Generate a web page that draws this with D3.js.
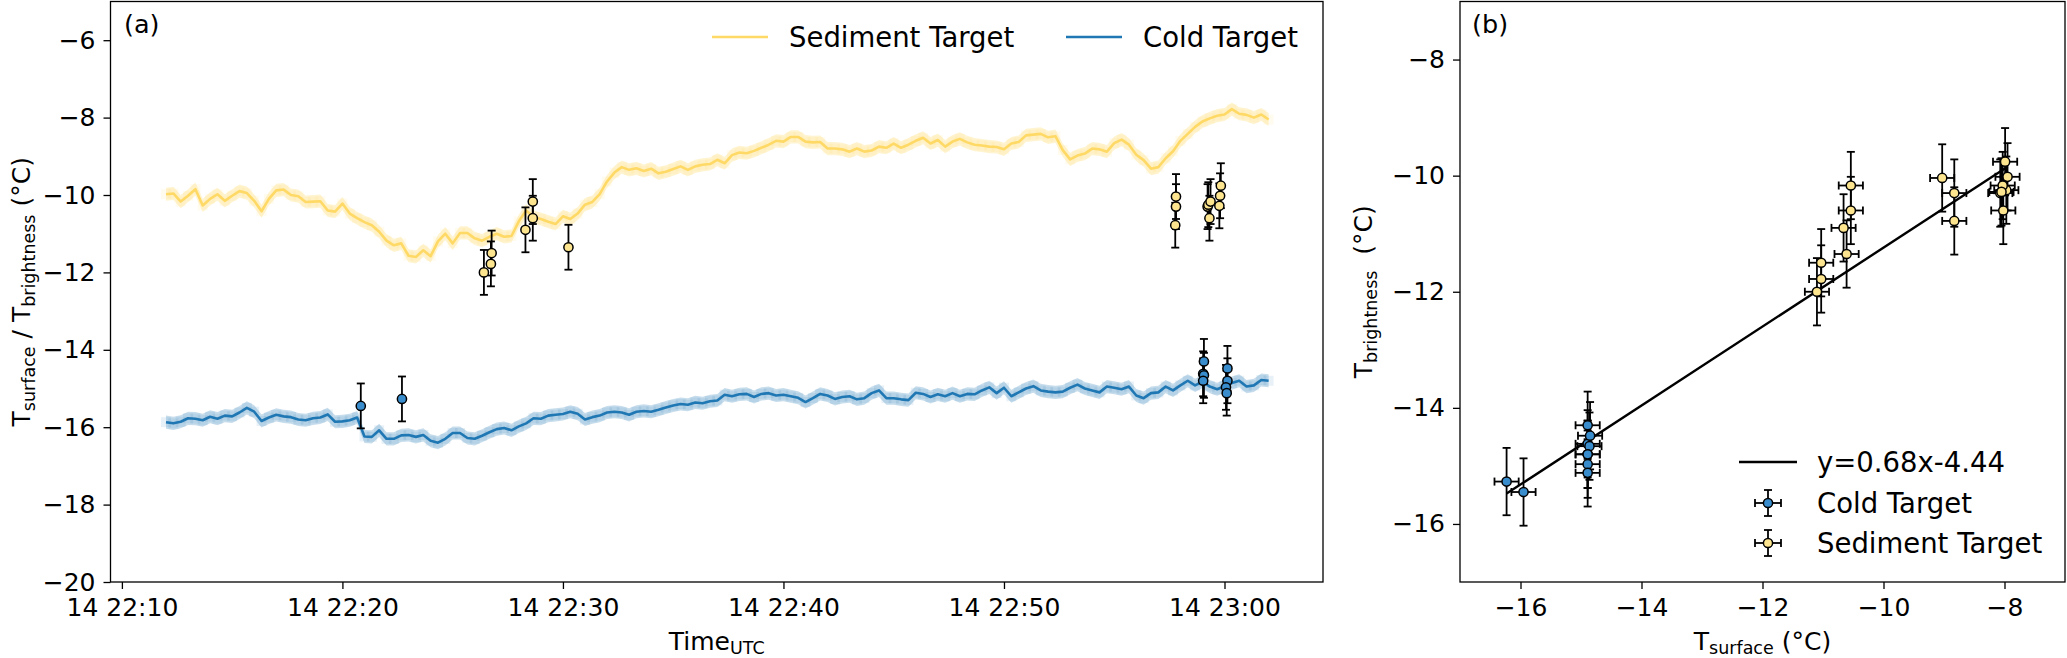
<!DOCTYPE html>
<html>
<head>
<meta charset="utf-8">
<script src="https://cdn.jsdelivr.net/npm/d3@7"></script>
<style>
body { margin: 0; background: #fff; }
svg text { font-family: "DejaVu Sans", sans-serif; fill: #000; }
</style>
</head>
<body>
<svg id="chart" width="2067" height="658"></svg>
<script>
// continuous records, one value every 20 s from 22:12:00
var lineStart = "2022-01-14 22:12:00";
var lineStepSec = 20;
var lineErr = 0.17;

var sedLine = [
	-9.98, -9.96, -10.17, -10.02, -9.85, -10.27, -10.1, -9.98, -10.15, -10.02,
	-9.9, -9.95, -10.15, -10.42, -10.1, -9.88, -9.86, -10.0, -10.03, -10.18,
	-10.17, -10.16, -10.4, -10.43, -10.22, -10.48, -10.6, -10.7, -10.78, -10.95,
	-11.18, -11.3, -11.25, -11.57, -11.6, -11.43, -11.58, -11.2, -11.0, -11.25,
	-10.98, -10.98, -11.12, -11.18, -11.08, -11.0, -11.08, -11.06, -10.68, -10.4,
	-10.57, -10.62, -10.69, -10.75, -10.55, -10.62, -10.48, -10.25, -10.18, -9.98,
	-9.65, -9.42, -9.28, -9.35, -9.31, -9.38, -9.32, -9.44, -9.4, -9.33,
	-9.26, -9.35, -9.26, -9.22, -9.2, -9.09, -9.18, -8.97, -8.9, -8.92,
	-8.86, -8.78, -8.7, -8.6, -8.62, -8.5, -8.5, -8.62, -8.64, -8.63,
	-8.8, -8.8, -8.82, -8.88, -8.8, -8.88, -8.85, -8.75, -8.78, -8.67,
	-8.78, -8.7, -8.6, -8.52, -8.67, -8.58, -8.75, -8.62, -8.55, -8.64,
	-8.7, -8.72, -8.75, -8.76, -8.82, -8.67, -8.63, -8.46, -8.44, -8.42,
	-8.51, -8.48, -8.84, -9.08, -8.98, -8.93, -8.8, -8.82, -8.88, -8.66,
	-8.57, -8.7, -8.96, -9.1, -9.32, -9.28, -9.05, -8.87, -8.6, -8.42,
	-8.24, -8.1, -8.02, -7.95, -7.92, -7.78, -7.9, -7.93, -8.0, -7.92,
	-8.05
];

var coldLine = [
	-15.87, -15.9, -15.86, -15.77, -15.78, -15.82, -15.73, -15.78, -15.7, -15.72,
	-15.62, -15.5, -15.6, -15.84, -15.75, -15.68, -15.72, -15.74, -15.8, -15.82,
	-15.77, -15.75, -15.67, -15.86, -15.85, -15.82, -15.75, -16.24, -16.25, -16.08,
	-16.3, -16.3, -16.21, -16.2, -16.25, -16.2, -16.35, -16.4, -16.3, -16.15,
	-16.15, -16.28, -16.3, -16.22, -16.13, -16.05, -16.02, -16.08, -15.98, -15.9,
	-15.77, -15.78, -15.7, -15.68, -15.66, -15.6, -15.65, -15.8, -15.74, -15.7,
	-15.62, -15.6, -15.62, -15.68, -15.6, -15.58, -15.6, -15.55, -15.49, -15.44,
	-15.4, -15.42, -15.36, -15.38, -15.33, -15.31, -15.16, -15.2, -15.15, -15.14,
	-15.22, -15.14, -15.12, -15.18, -15.16, -15.2, -15.24, -15.35, -15.25, -15.14,
	-15.18, -15.27, -15.22, -15.2, -15.28, -15.25, -15.12, -15.05, -15.25, -15.25,
	-15.28, -15.3, -15.11, -15.14, -15.22, -15.15, -15.2, -15.12, -15.2, -15.14,
	-15.15, -15.05, -14.97, -15.12, -14.98, -15.2, -15.1, -15.0, -14.94, -15.05,
	-15.08, -15.1, -15.08, -14.98, -14.9, -15.0, -15.05, -15.1, -14.95, -14.98,
	-15.02, -14.95, -15.18, -15.25, -15.12, -15.1, -14.95, -15.05, -14.92, -14.8,
	-14.92, -14.82, -14.95, -15.02, -14.94, -14.86, -14.8, -14.95, -14.92, -14.78,
	-14.8
];

// point measurements (brightness vs surface)
var day = "2022-01-14 ";
var sedTimes = ["22:26:25", "22:26:44", "22:26:46", "22:28:18", "22:28:38", "22:28:38", "22:30:15",
	"22:57:48", "22:57:48", "22:57:46", "22:59:14", "22:59:16", "22:59:19", "22:59:22",
	"22:59:50", "22:59:48", "22:59:46"];
var sedBright = [-12.0, -11.78, -11.5, -10.9, -10.6, -10.17, -11.35,
	-10.04, -10.3, -10.78, -10.3, -10.25, -10.6, -10.17,
	-9.76, -10.02, -10.28];
var sedSurface = [-11.1, -11.03, -11.03, -10.66, -10.54, -10.54, -10.61,
	-9.03, -8.83, -8.83, -8.07, -7.97, -8.02, -8.03,
	-7.99, -7.95, -8.05];

var coldTimes = ["22:20:50", "22:22:42", "22:59:04", "22:59:02", "22:59:04", "22:59:02",
	"23:00:08", "23:00:08", "23:00:04", "23:00:06"];
var coldBright = [-15.45, -15.27, -14.3, -14.62, -14.66, -14.8, -14.48, -14.8, -14.97, -15.12];
var coldSurface = [-15.95, -16.23, -14.89, -14.89, -14.86, -14.89, -14.85, -14.89, -14.89, -14.89];

var errBright = 0.58;
var errSurface = 0.2;
var fitSlope = 0.68, fitIntercept = -4.44;

var yTicksA = [-20, -18, -16, -14, -12, -10, -8, -6];
var ticksB = [-16, -14, -12, -10, -8];

var sedColor = "#ffd966", sedFill = "#fde58f";
var coldColor = "#1f77b4", coldFill = "#3a8dcc";
var legendSize = 27.5;

var svg = d3.select("#chart");
var parseT = d3.utcParse("%Y-%m-%d %H:%M:%S");
var t0 = parseT(lineStart);
var lineTimes = sedLine.map(function (d, i) {
	return new Date(+t0 + i * lineStepSec * 1000);
});

var A = {left: 110.5, right: 1323, top: 1.5, bottom: 582};
var B = {left: 1460, right: 2065, top: 1.5, bottom: 582};

var xA = d3.scaleUtc()
	.domain([parseT(day + "22:09:29"), parseT(day + "23:04:28")])
	.range([A.left, A.right]);
var yA = d3.scaleLinear().domain([-20, -5]).range([A.bottom, A.top]);
var xB = d3.scaleLinear().domain([-17, -7]).range([B.left, B.right]);
var yB = d3.scaleLinear().domain([-17, -7]).range([B.bottom, B.top]);

function styleAxis(g) {
	g.selectAll(".domain").remove();
	g.selectAll(".tick line").attr("stroke", "#000").attr("stroke-width", 1.3);
	g.selectAll(".tick text").attr("font-size", 25).attr("font-family", "DejaVu Sans");
}

function errorBar(g, x1, y1, x2, y2, capX, capY) {
	g.append("line").attr("x1", x1).attr("y1", y1).attr("x2", x2).attr("y2", y2)
		.attr("stroke", "#000").attr("stroke-width", 1.8);
	[[x1, y1], [x2, y2]].forEach(function (p) {
		g.append("line")
			.attr("x1", p[0] - capX).attr("x2", p[0] + capX)
			.attr("y1", p[1] - capY).attr("y2", p[1] + capY)
			.attr("stroke", "#000").attr("stroke-width", 1.8);
	});
}

// ---------- panel (a) ----------
var ga = svg.append("g");

function drawRecord(values, color, bandOpacity) {
	var pts = values.map(function (v, i) { return {t: lineTimes[i], v: v}; });
	ga.append("path").datum(pts)
		.attr("fill", color).attr("fill-opacity", bandOpacity)
		.attr("d", d3.area()
			.x(function (d) { return xA(d.t); })
			.y0(function (d) { return yA(d.v - lineErr); })
			.y1(function (d) { return yA(d.v + lineErr); }));
	ga.selectAll(null).data(pts).enter().append("rect")
		.attr("x", function (d) { return xA(d.t) - 5; })
		.attr("y", function (d) { return yA(d.v) - 5; })
		.attr("width", 10).attr("height", 10)
		.attr("fill", color).attr("opacity", 0.1);
	ga.append("path").datum(pts)
		.attr("fill", "none").attr("stroke", color).attr("stroke-width", 2.6)
		.attr("stroke-linejoin", "round")
		.attr("d", d3.line()
			.x(function (d) { return xA(d.t); })
			.y(function (d) { return yA(d.v); }));
}
drawRecord(sedLine, sedColor, 0.3);
drawRecord(coldLine, coldColor, 0.25);

function drawPointsA(times, vals, fill) {
	times.forEach(function (t, i) {
		var x = xA(parseT(day + t));
		errorBar(ga, x, yA(vals[i] + errBright), x, yA(vals[i] - errBright), 4, 0);
	});
	times.forEach(function (t, i) {
		ga.append("circle")
			.attr("cx", xA(parseT(day + t))).attr("cy", yA(vals[i])).attr("r", 4.6)
			.attr("fill", fill).attr("stroke", "#000").attr("stroke-width", 1.5);
	});
}
drawPointsA(sedTimes, sedBright, sedFill);
drawPointsA(coldTimes, coldBright, coldFill);

ga.append("g")
	.attr("transform", "translate(0," + A.bottom + ")")
	.call(d3.axisBottom(xA).ticks(d3.utcMinute.every(10)).tickFormat(d3.utcFormat("%d %H:%M"))
		.tickSize(7).tickPadding(9))
	.call(styleAxis);
ga.append("g")
	.attr("transform", "translate(" + A.left + ",0)")
	.call(d3.axisLeft(yA).tickValues(yTicksA).tickSize(7).tickPadding(8))
	.call(styleAxis);
ga.append("rect")
	.attr("x", A.left).attr("y", A.top)
	.attr("width", A.right - A.left).attr("height", A.bottom - A.top)
	.attr("fill", "none").attr("stroke", "#000").attr("stroke-width", 1.3);

ga.append("text").attr("x", 124).attr("y", 33).attr("font-size", 25.5).text("(a)");

var legA = [
	{label: "Sediment Target", color: sedColor, x: 712},
	{label: "Cold Target", color: coldColor, x: 1066}
];
legA.forEach(function (d) {
	ga.append("line").attr("x1", d.x).attr("x2", d.x + 56).attr("y1", 37).attr("y2", 37)
		.attr("stroke", d.color).attr("stroke-width", 2.6);
	ga.append("text").attr("x", d.x + 77).attr("y", 47).attr("font-size", legendSize).text(d.label);
});

var xlabA = ga.append("text").attr("x", (A.left + A.right) / 2).attr("y", 650)
	.attr("text-anchor", "middle").attr("font-size", 25);
xlabA.append("tspan").text("Time");
xlabA.append("tspan").attr("font-size", 17.5).attr("dy", 3.5).text("UTC");

var ylabA = ga.append("text")
	.attr("transform", "translate(30," + (A.top + A.bottom) / 2 + ") rotate(-90)")
	.attr("text-anchor", "middle").attr("font-size", 25);
ylabA.append("tspan").text("T");
ylabA.append("tspan").attr("font-size", 17.5).attr("dy", 5).text("surface");
ylabA.append("tspan").attr("dy", -5).text(" / T");
ylabA.append("tspan").attr("font-size", 17.5).attr("dy", 5).text("brightness");
ylabA.append("tspan").attr("dy", -5).text(" (°C)");

// ---------- panel (b) ----------
var gb = svg.append("g");

var allSurface = coldSurface.concat(sedSurface);
var fitX = d3.extent(allSurface);
gb.append("line")
	.attr("x1", xB(fitX[0])).attr("y1", yB(fitSlope * fitX[0] + fitIntercept))
	.attr("x2", xB(fitX[1])).attr("y2", yB(fitSlope * fitX[1] + fitIntercept))
	.attr("stroke", "#000").attr("stroke-width", 2.4);

function drawPointsB(sx, by, fill) {
	sx.forEach(function (s, i) {
		errorBar(gb, xB(s), yB(by[i] + errBright), xB(s), yB(by[i] - errBright), 4, 0);
		errorBar(gb, xB(s - errSurface), yB(by[i]), xB(s + errSurface), yB(by[i]), 0, 4);
	});
	sx.forEach(function (s, i) {
		gb.append("circle").attr("cx", xB(s)).attr("cy", yB(by[i])).attr("r", 4.6)
			.attr("fill", fill).attr("stroke", "#000").attr("stroke-width", 1.5);
	});
}
drawPointsB(coldSurface, coldBright, coldFill);
drawPointsB(sedSurface, sedBright, sedFill);

gb.append("g")
	.attr("transform", "translate(0," + B.bottom + ")")
	.call(d3.axisBottom(xB).tickValues(ticksB).tickSize(7).tickPadding(9))
	.call(styleAxis);
gb.append("g")
	.attr("transform", "translate(" + B.left + ",0)")
	.call(d3.axisLeft(yB).tickValues(ticksB).tickSize(7).tickPadding(8))
	.call(styleAxis);
gb.append("rect")
	.attr("x", B.left).attr("y", B.top)
	.attr("width", B.right - B.left).attr("height", B.bottom - B.top)
	.attr("fill", "none").attr("stroke", "#000").attr("stroke-width", 1.3);

gb.append("text").attr("x", 1472).attr("y", 33).attr("font-size", 25.5).text("(b)");

// legend (b)
gb.append("line").attr("x1", 1739).attr("x2", 1797).attr("y1", 462).attr("y2", 462)
	.attr("stroke", "#000").attr("stroke-width", 2.4);
gb.append("text").attr("x", 1817).attr("y", 472).attr("font-size", legendSize)
	.text("y=" + fitSlope + "x" + fitIntercept);
[{label: "Cold Target", fill: coldFill, y: 503}, {label: "Sediment Target", fill: sedFill, y: 543}]
	.forEach(function (d) {
		errorBar(gb, 1768, d.y - 13, 1768, d.y + 13, 4, 0);
		errorBar(gb, 1755, d.y, 1781, d.y, 0, 4);
		gb.append("circle").attr("cx", 1768).attr("cy", d.y).attr("r", 4.6)
			.attr("fill", d.fill).attr("stroke", "#000").attr("stroke-width", 1.5);
		gb.append("text").attr("x", 1817).attr("y", d.y + 10).attr("font-size", legendSize).text(d.label);
	});

var xlabB = gb.append("text").attr("x", (B.left + B.right) / 2).attr("y", 650)
	.attr("text-anchor", "middle").attr("font-size", 25);
xlabB.append("tspan").text("T");
xlabB.append("tspan").attr("font-size", 17.5).attr("dy", 3.5).text("surface");
xlabB.append("tspan").attr("dy", -3.5).text(" (°C)");

var ylabB = gb.append("text")
	.attr("transform", "translate(1372," + (B.top + B.bottom) / 2 + ") rotate(-90)")
	.attr("text-anchor", "middle").attr("font-size", 25);
ylabB.append("tspan").text("T");
ylabB.append("tspan").attr("font-size", 17.5).attr("dy", 5).text("brightness");
ylabB.append("tspan").attr("dy", -5).text("  (°C)").attr("xml:space", "preserve");
</script>
</body>
</html>
